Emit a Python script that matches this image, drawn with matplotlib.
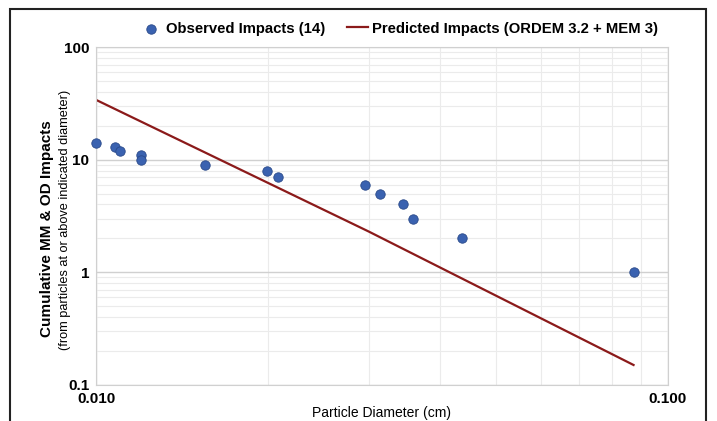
import matplotlib
matplotlib.use('Agg')
import matplotlib.pyplot as plt
from matplotlib.patches import Rectangle
from matplotlib.ticker import LogLocator, NullFormatter, FixedLocator

plt.rcParams['font.family'] = ['Liberation Sans', 'DejaVu Sans']

# observed impacts: particle diameter (cm) vs cumulative count
obs_diam = [0.0100, 0.0108, 0.0110, 0.0120, 0.0120, 0.0155, 0.0199,
            0.0208, 0.0295, 0.0314, 0.0345, 0.0359, 0.0437, 0.0872]
obs_count = [14, 13, 12, 11, 10, 9, 8, 7, 6, 5, 4, 3, 2, 1]

# predicted impacts (ORDEM 3.2 + MEM 3)
pred_diam = [0.0100, 0.0300, 0.0872]
pred_count = [34.0, 2.3, 0.15]

fig = plt.figure(figsize=(7.17, 4.21), dpi=100)
ax = fig.add_axes([0.134, 0.086, 0.797, 0.802])

ax.set_xscale('log')
ax.set_yscale('log')
ax.set_xlim(0.01, 0.1)
ax.set_ylim(0.1, 100)

ax.grid(True, which='major', color='#d0d0d0', linewidth=1.0)
ax.grid(True, which='minor', color='#ebebeb', linewidth=0.8)
ax.set_axisbelow(True)

ax.plot(pred_diam, pred_count, color='#8b1a1a', linewidth=1.6,
        label='Predicted Impacts (ORDEM 3.2 + MEM 3)', zorder=2)
ax.scatter(obs_diam, obs_count, s=46, color='#3a62b0', edgecolors='#2a4a8a',
           linewidths=0.6, label='Observed Impacts (14)', zorder=3, clip_on=False)

ax.xaxis.set_major_locator(FixedLocator([0.01, 0.1]))
ax.set_xticklabels(['0.010', '0.100'])
ax.xaxis.set_minor_locator(LogLocator(base=10, subs=range(2, 10)))
ax.xaxis.set_minor_formatter(NullFormatter())
ax.yaxis.set_major_locator(FixedLocator([0.1, 1, 10, 100]))
ax.set_yticklabels(['0.1', '1', '10', '100'])
ax.yaxis.set_minor_locator(LogLocator(base=10, subs=range(2, 10)))
ax.yaxis.set_minor_formatter(NullFormatter())

ax.tick_params(which='both', length=0)
ax.tick_params(axis='both', labelsize=11, pad=5)
for lbl in ax.get_xticklabels() + ax.get_yticklabels():
    lbl.set_fontweight('bold')

for side in ['top', 'right', 'bottom', 'left']:
    ax.spines[side].set_color('#d0d0d0')

ax.set_xlabel('Particle Diameter (cm)', fontsize=10, labelpad=0)
fig.text(0.066, 0.458, 'Cumulative MM & OD Impacts', rotation=90,
         ha='center', va='center', fontsize=11, fontweight='bold')
fig.text(0.090, 0.477, '(from particles at or above indicated diameter)',
         rotation=90, ha='center', va='center', fontsize=9.2)

handles, labels = ax.get_legend_handles_labels()
fig.legend(handles[::-1], labels[::-1], loc='center', bbox_to_anchor=(0.557, 0.932),
           ncol=2, frameon=False, handlelength=1.4,
           handletextpad=0.3, columnspacing=1.5, markerscale=1.0,
           prop={'size': 10.7, 'weight': 'bold'})

fig.patches.append(Rectangle((0.014, -0.01), 0.971, 0.989, transform=fig.transFigure,
                             fill=False, edgecolor='#222222', linewidth=1.5))

fig.savefig('out.png', dpi=100)
